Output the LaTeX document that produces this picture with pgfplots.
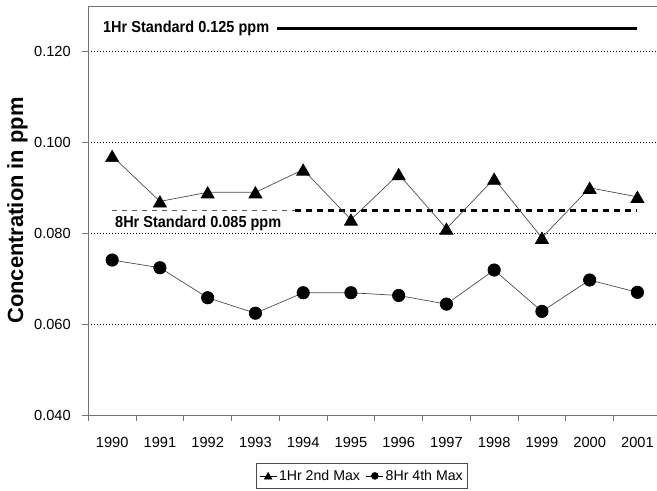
\documentclass[border=0pt]{standalone}
\usepackage{fontspec}
\setmainfont{Liberation Sans}
\newfontfamily\narrowsans[FakeStretch=0.91]{Liberation Sans}
\usepackage{pgfplots}
\pgfplotsset{compat=1.18}
\begin{document}
\begin{tikzpicture}
\begin{axis}[
  scale only axis,
  width=573bp, height=409bp,
  xmin=-0.5, xmax=11.5,
  ymin=0.04, ymax=0.13,
  axis x line*=bottom, axis y line*=left,
  axis line style={draw=black!55, line width=0.9bp},
  tick style={draw=black!55, line width=1bp},
  tick align=outside,
  major tick length=6bp,
  minor tick length=6.5bp,
  xtick={0,1,2,3,4,5,6,7,8,9,10,11},
  xticklabels={1990,1991,1992,1993,1994,1995,1996,1997,1998,1999,2000,2001},
  minor xtick={-0.5,0.5,1.5,2.5,3.5,4.5,5.5,6.5,7.5,8.5,9.5,10.5,11.5},
  major x tick style={draw=none},
  xticklabel style={yshift=-13bp},
  ytick={0.04,0.06,0.08,0.10,0.12},
  scaled y ticks=false,
  yticklabel style={xshift=-8bp, /pgf/number format/fixed, /pgf/number format/fixed zerofill, /pgf/number format/precision=3},
  /pgf/number format/assume math mode=true,
  tick label style={font=\fontsize{14.7}{17}\selectfont},
  ymajorgrids,
  major grid style={black, line width=0.6bp, dash pattern=on 1bp off 2bp},
  ylabel={Concentration in ppm},
  ylabel style={font=\fontsize{22}{26}\selectfont\bfseries, at={(axis description cs:0,0.5)}, yshift=70.8bp, anchor=center},
  legend style={at={(axis description cs:0.4777,-0.1180)}, anchor=north, legend columns=2, draw=black!70, line width=0.6bp, font=\fontsize{14.2}{17}\selectfont, inner xsep=3bp, inner ysep=4.5bp, /tikz/every even column/.append style={column sep=4bp}},
  legend cell align=left,
]
\coordinate (O) at (rel axis cs:0,0);
\draw[black!55, line width=0.9bp] (rel axis cs:0,1) -- (rel axis cs:1,1);
% standards
\addplot[forget plot, black, line width=2.6bp] coordinates {(3.45,0.125) (11,0.125)};
\addplot[forget plot, black!65, line width=0.7bp, dash pattern=on 5bp off 5bp] coordinates {(0,0.085) (3.83,0.085)};
\addplot[forget plot, black, line width=2.6bp, dash pattern=on 6bp off 5bp] coordinates {(3.83,0.085) (11,0.085)};
% series
\addplot[black!70, line width=0.7bp, mark=triangle*, mark size=7.5bp, mark options={black, solid, yshift=-1.9bp}, legend image post style={black, mark size=4.3bp, mark options={yshift=-1bp}}] coordinates {
(0,0.097) (1,0.087) (2,0.089) (3,0.089) (4,0.094) (5,0.083)
(6,0.093) (7,0.081) (8,0.092) (9,0.079) (10,0.090) (11,0.088)};
\addlegendentry{1Hr 2nd Max}
\addplot[black!70, line width=0.7bp, mark=*, mark size=6.2bp, mark options={black, solid}, legend image post style={black, mark size=3.4bp}] coordinates {
(0,0.0741) (1,0.0724) (2,0.0658) (3,0.0624) (4,0.0669) (5,0.0669)
(6,0.0663) (7,0.0644) (8,0.0719) (9,0.0628) (10,0.0697) (11,0.0670)};
\addlegendentry{8Hr 4th Max}
\node[anchor=base west, inner sep=0pt, font=\narrowsans\fontsize{16}{19}\selectfont\bfseries] at (axis cs:-0.193,0.12426) {1Hr Standard 0.125 ppm};
\node[anchor=base west, inner sep=0pt, font=\narrowsans\fontsize{16}{19}\selectfont\bfseries] at (axis cs:0.059,0.0813) {8Hr Standard 0.085 ppm};
\end{axis}
\pgfresetboundingbox
\path ([shift={(-88.3bp,-76bp)}]O) rectangle ([shift={(568.7bp,415bp)}]O);
\end{tikzpicture}
\end{document}
